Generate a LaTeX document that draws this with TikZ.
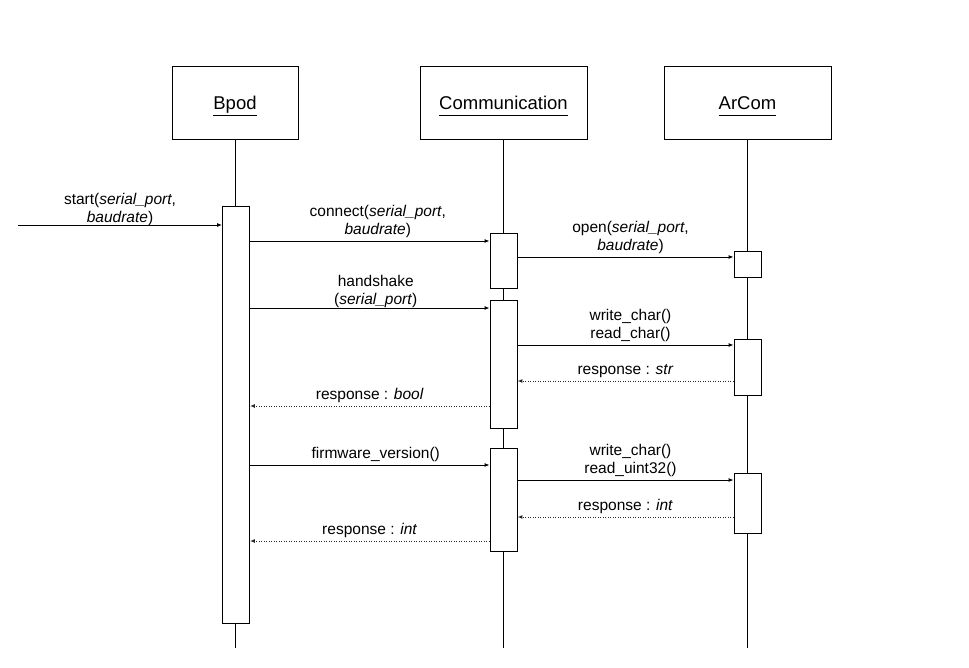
\documentclass[tikz,border=0pt]{standalone}
\usepackage{fontspec}
\setmainfont{Liberation Sans}
\usetikzlibrary{arrows.meta}
\newcommand{\uname}[1]{\underline{#1\vphantom{p}}}

\begin{document}
\begin{tikzpicture}[x=1pt,y=-1pt,line width=0.9pt,
  head/.style={draw,minimum height=73pt,inner sep=0pt,text height=19pt,text depth=5pt,font=\fontsize{18.5}{22}\selectfont},
  act/.style={draw,fill=white,minimum width=27pt,inner sep=0pt},
  msg/.style={-{Latex[length=5pt,width=4pt]}},
  reply/.style={msg,black!85,line width=1pt,dash pattern=on 1pt off 1.5pt},
  lbl/.style={above,align=center,inner sep=3pt,text=black,font=\fontsize{15.5}{18}\selectfont}]

\useasboundingbox (0,0) rectangle (969,668);

% objects
\node[head,minimum width=126pt] (bpod) at (235,102.5) {\uname{Bpod}};
\node[head,minimum width=167pt] (comm) at (503.5,102.5) {\uname{Communication}};
\node[head,minimum width=167pt] (arcom) at (747.5,102.5) {\uname{ArCom}};

% lifelines
\coordinate (bend) at (235.5,648);
\coordinate (cend) at (503.5,648);
\coordinate (aend) at (747.5,648);
\draw (bpod.south -| bend) -- (bend);
\draw (comm.south) -- (cend);
\draw (arcom.south) -- (aend);

% activations
\node[act,minimum height=417pt] (bact) at (236,414.5) {};
\node[act,minimum height=55pt] (cact1) at (503.5,260.5) {};
\node[act,minimum height=128pt] (cact2) at (503.5,364) {};
\node[act,minimum height=103pt] (cact3) at (503.5,499.5) {};
\node[act,minimum height=26pt] (aact1) at (747.5,264) {};
\node[act,minimum height=56pt] (aact2) at (747.5,367) {};
\node[act,minimum height=60pt] (aact3) at (747.5,503) {};

% messages
\coordinate (start) at (18,225);
\draw[msg] (start) -- node[lbl,inner sep=0pt,yshift=-1pt]{start(\textit{serial\_port},\\\textit{baudrate})} (bact.west |- start);

\draw[msg] (bact.east |- 0,241) -- node[lbl,xshift=8pt]{connect(\textit{serial\_port},\\\textit{baudrate})} (cact1.west |- 0,241);
\draw[msg] (cact1.east |- 0,257) -- node[lbl,xshift=5pt]{open(\textit{serial\_port},\\\textit{baudrate})} (aact1.west |- 0,257);

\draw[msg] (bact.east |- 0,308) -- node[lbl,xshift=6pt,yshift=-3pt]{handshake\\(\textit{serial\_port})} (cact2.west |- 0,308);
\draw[msg] (cact2.east |- 0,345) -- node[lbl,xshift=5pt]{write\_char()\\read\_char()} (aact2.west |- 0,345);
\draw[reply] (aact2.west |- 0,381) -- node[lbl]{response : \textit{str}} (cact2.east |- 0,381);
\draw[reply] (cact2.west |- 0,406) -- node[lbl]{response : \textit{bool}} (bact.east |- 0,406);

\draw[msg] (bact.east |- 0,465) -- node[lbl,xshift=6pt]{firmware\_version()} (cact3.west |- 0,465);
\draw[msg] (cact3.east |- 0,480) -- node[lbl,xshift=5pt]{write\_char()\\read\_uint32()} (aact3.west |- 0,480);
\draw[reply] (aact3.west |- 0,517) -- node[lbl]{response : \textit{int}} (cact3.east |- 0,517);
\draw[reply] (cact3.west |- 0,541) -- node[lbl]{response : \textit{int}} (bact.east |- 0,541);

\end{tikzpicture}
\end{document}
